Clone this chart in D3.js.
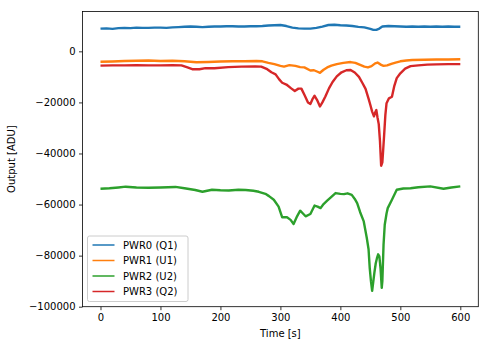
<!DOCTYPE html>
<html><head><meta charset="utf-8">
<script src="https://cdn.jsdelivr.net/npm/d3@7"></script>
<style>
body{margin:0;background:#fff;}
text{font-family:"DejaVu Sans",sans-serif;}
</style></head>
<body><svg id="c" width="489" height="347"></svg>
<script>
const seriesNames = ["PWR0 (Q1)","PWR1 (U1)","PWR2 (U2)","PWR3 (Q2)"];
const seriesColors = ["#1f77b4","#ff7f0e","#2ca02c","#d62728"];
const xTicks = [0,100,200,300,400,500,600];
const yTicks = [0,-20000,-40000,-60000,-80000,-100000];

const t0 = [0,10,20,30,40,50,60,70,80,90,100,110,120,130,140,150,160,170,180,190,200,210,220,230,240,250,260,270,280,290,300,310,320,330,340,350,360,370,380,390,400,410,420,430,440,450,455,460,465,470,480,490,500,510,520,530,540,550,560,570,580,590,600];
const v0 = [8900,9000,8800,9100,9200,9100,9300,9200,9200,9300,9300,9200,9400,9500,9600,9700,9600,9500,9600,9700,9700,9800,9800,9700,9700,9800,9800,9900,10100,10200,10300,9900,9300,9000,8900,8900,9200,9700,10300,10400,10200,10100,9900,9600,9400,8800,8400,8400,8900,9700,9900,9800,9700,9600,9700,9600,9700,9600,9700,9600,9700,9600,9600];

const t1 = [0,20,40,60,80,100,120,140,160,180,200,220,240,260,270,280,290,300,306,315,325,333,340,350,356,362,366,372,378,385,394,405,417,425,433,440,446,452,458,462,468,472,478,485,492,500,510,520,540,560,580,600];
const v1 = [-4100,-4000,-3800,-3700,-3600,-3800,-3700,-3900,-4300,-4200,-4000,-3900,-3900,-3800,-3900,-4500,-5000,-5700,-6000,-5400,-5700,-6200,-6300,-7500,-7400,-8000,-8400,-7200,-6300,-5600,-5000,-4500,-4200,-4500,-5300,-6000,-6300,-5800,-4700,-4400,-5300,-5700,-5500,-4900,-4400,-3900,-3600,-3400,-3300,-3200,-3200,-3100];

const t2 = [0,15,30,42,60,80,100,125,140,158,170,186,200,214,230,242,255,264,275,281,289,297,303,311,317,322,328,333,338,342,350,357,362,367,372,378,385,392,400,406,412,419,424,428,433,439,444,447,449,451,453,455,457,459,461,463,465,467,469,470,472,474,477,479,486,494,505,517,530,550,572,585,600];
const v2 = [-53800,-53600,-53300,-53000,-53300,-53400,-53300,-53100,-53600,-54300,-55000,-54200,-54400,-54500,-54200,-54300,-54600,-55000,-55800,-56700,-58100,-60800,-65000,-65000,-66000,-67600,-64500,-62400,-63600,-64600,-63700,-60400,-60800,-61400,-59800,-58500,-57000,-55500,-55800,-55900,-55600,-56200,-57800,-59400,-63000,-66600,-73000,-77500,-85000,-90000,-93800,-90000,-86200,-83000,-81000,-79500,-80300,-85000,-92600,-90000,-75700,-67900,-63500,-61400,-58100,-54200,-53700,-53600,-53200,-52900,-53800,-53300,-52900];

const t3 = [0,20,40,60,80,100,120,135,145,153,165,175,190,213,235,258,268,278,285,292,298,303,310,318,324,330,335,340,346,350,354,357,361,366,370,375,381,387,394,402,410,417,424,431,437,442,447,450,453,456,458,460,462,464,466,468,470,471,473,475,477,481,486,490,494,500,508,517,530,545,560,580,600];
const v3 = [-5600,-5500,-5500,-5400,-5500,-5500,-5400,-5500,-6300,-7000,-7000,-6600,-6600,-6200,-6000,-5900,-6000,-7000,-8200,-9000,-11000,-12300,-13000,-14500,-15500,-14600,-14600,-17000,-20000,-20600,-18500,-17400,-19000,-21600,-20000,-17700,-14500,-12000,-9800,-8200,-7400,-7300,-8300,-10000,-12500,-14700,-18500,-21000,-23600,-25500,-24000,-23000,-26000,-28500,-35000,-44800,-43500,-40000,-32700,-25000,-20300,-18400,-17800,-13500,-10500,-8600,-6800,-5800,-5500,-5200,-5100,-5000,-5000];

const times = [t0,t1,t2,t3];
const values = [v0,v1,v2,v3];

const L = 82.5, T = 11.5, R = 478.3, B = 306.7;
const svg = d3.select("#c");
const x = d3.scaleLinear().domain([-30,630]).range([L,R]);
const y = d3.scaleLinear().domain([-100000,15600]).range([B,T]);
const fmt = d3.format("d");

// lines
const line = d3.line().x(d=>x(d[0])).y(d=>y(d[1]));
const clip = svg.append("clipPath").attr("id","clp").append("rect")
  .attr("x",L).attr("y",T).attr("width",R-L).attr("height",B-T);
const g = svg.append("g").attr("clip-path","url(#clp)");
seriesNames.forEach((n,i)=>{
  const pts = times[i].map((t,j)=>[t, values[i][j]]);
  g.append("path").datum(pts).attr("d",line)
    .attr("fill","none").attr("stroke",seriesColors[i])
    .attr("stroke-width",2.4).attr("stroke-linejoin","round");
});

// axes
const xa = svg.append("g").attr("transform",`translate(0,${B})`)
  .call(d3.axisBottom(x).tickValues(xTicks).tickFormat(fmt).tickSize(3.5).tickPadding(3.5).tickSizeOuter(0));
const ya = svg.append("g").attr("transform",`translate(${L},0)`)
  .call(d3.axisLeft(y).tickValues(yTicks).tickFormat(fmt).tickSize(3.5).tickPadding(3.5).tickSizeOuter(0));
[xa,ya].forEach(a=>{
  a.select(".domain").remove();
  a.selectAll("line").attr("stroke","#000").attr("stroke-width",0.8);
  a.selectAll("text").attr("font-size",10).attr("fill","#000").attr("font-family","DejaVu Sans");
});
svg.append("rect").attr("x",L).attr("y",T).attr("width",R-L).attr("height",B-T)
  .attr("fill","none").attr("stroke","#000").attr("stroke-width",0.8);

// labels
svg.append("text").attr("x",(L+R)/2).attr("y",337).attr("text-anchor","middle")
  .attr("font-size",10).text("Time [s]");
svg.append("text").attr("transform",`translate(14.5,${(T+B)/2}) rotate(-90)`)
  .attr("text-anchor","middle").attr("font-size",10).text("Output [ADU]");

// legend
const lg = svg.append("g");
lg.append("rect").attr("x",87.5).attr("y",236).attr("width",100.5).attr("height",65.5)
  .attr("rx",2).attr("fill","#fff").attr("fill-opacity",0.8).attr("stroke","#ccc").attr("stroke-width",1);
seriesNames.forEach((n,i)=>{
  const yy = 245 + i*15.5;
  lg.append("line").attr("x1",92.5).attr("x2",114.5).attr("y1",yy).attr("y2",yy)
    .attr("stroke",seriesColors[i]).attr("stroke-width",1.5);
  lg.append("text").attr("x",123).attr("y",yy).attr("dy","0.35em").attr("font-size",10).text(n);
});
</script></body></html>
